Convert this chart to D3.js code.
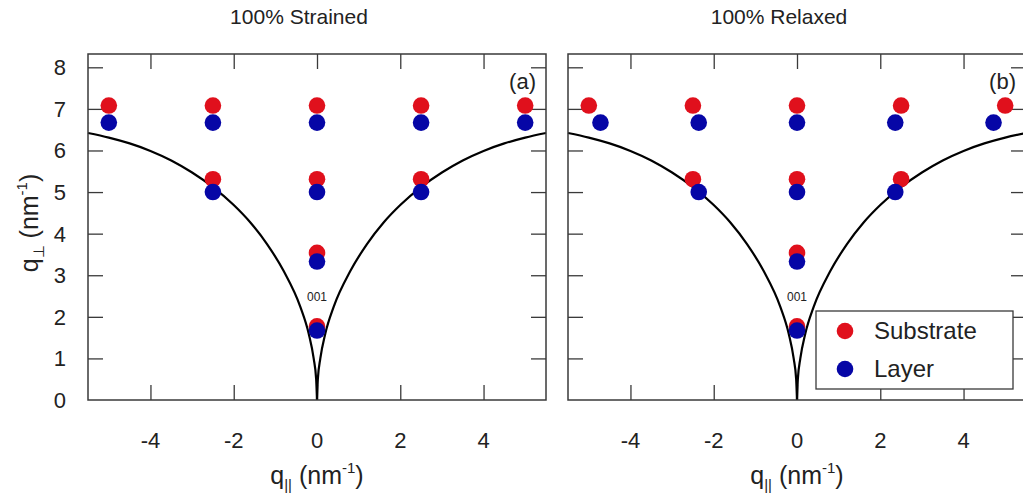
<!DOCTYPE html>
<html>
<head>
<meta charset="utf-8">
<script src="https://cdn.jsdelivr.net/npm/d3@7"></script>
<style>
  body { margin: 0; background: #fff; }
  text { font-family: "Liberation Sans", Arial, sans-serif; fill: #222; }
</style>
</head>
<body>
<div id="chart"></div>
<script>
// Data
const qParTicks = [-4, -2, 0, 2, 4];
const qPerpTicks = [1, 2, 3, 4, 5, 6, 7, 8];
const qPerpLabels = [0, 1, 2, 3, 4, 5, 6, 7, 8];

// substrate (same in both panels)
const subX = [-5.0, -2.5, 0, 2.5, 5.0, -2.5, 0, 2.5, 0, 0];
const subY = [7.08, 7.08, 7.08, 7.08, 7.08, 5.31, 5.31, 5.31, 3.54, 1.77];
// layer, strained
const strainedLayX = [-5.0, -2.5, 0, 2.5, 5.0, -2.5, 0, 2.5, 0, 0];
const strainedLayY = [6.67, 6.67, 6.67, 6.67, 6.67, 5.0, 5.0, 5.0, 3.33, 1.67];
// layer, relaxed
const relaxedLayX = [-4.72, -2.36, 0, 2.36, 4.72, -2.36, 0, 2.36, 0, 0];
const relaxedLayY = [6.67, 6.67, 6.67, 6.67, 6.67, 5.0, 5.0, 5.0, 3.33, 1.67];

// accessible-region boundary (right branch, mirrored for the left)
const arcPar  = [0, 0.02, 0.08, 0.2, 0.4, 0.8, 1.2, 1.6, 2.0, 2.5, 3.0, 3.5, 4.0, 4.5, 5.0, 5.5];
const arcPerp = [0, 0.5, 1.0, 1.6, 2.24, 3.1, 3.75, 4.27, 4.69, 5.12, 5.47, 5.76, 5.99, 6.17, 6.31, 6.42];

const legendNames = ['Substrate', 'Layer'];
const colors = { sub: '#e0101c', lay: '#0606a6' };

const width = 1023;
const height = 499;
const panelW = 458;
const plotTop = 54, plotBottom = 400;
const panels = [
  { left: 88,  title: '100% Strained', tag: '(a)', layX: strainedLayX, layY: strainedLayY, yLabels: true,  legend: false },
  { left: 568, title: '100% Relaxed',  tag: '(b)', layX: relaxedLayX,  layY: relaxedLayY,  yLabels: false, legend: true }
];

const svg = d3.select('#chart').append('svg').attr('width', width).attr('height', height);
svg.append('rect').attr('width', width).attr('height', height).attr('fill', '#fff');

const y = d3.scaleLinear().domain([0, 8.32]).range([plotBottom, plotTop]);
const tickLen = 15;
const frameColor = '#3a3a3a';

panels.forEach(p => {
  const x = d3.scaleLinear().domain([-5.5, 5.5]).range([p.left, p.left + panelW]);
  const g = svg.append('g');

  // ticks, mirrored on every side, pointing inward
  g.append('g').attr('transform', `translate(0,${plotBottom})`)
    .call(d3.axisTop(x).tickValues(qParTicks).tickSize(tickLen).tickFormat(''))
    .call(a => a.select('.domain').remove());
  g.append('g').attr('transform', `translate(0,${plotTop})`)
    .call(d3.axisBottom(x).tickValues(qParTicks).tickSize(tickLen).tickFormat(''))
    .call(a => a.select('.domain').remove());
  g.append('g').attr('transform', `translate(${p.left},0)`)
    .call(d3.axisRight(y).tickValues(qPerpTicks).tickSize(tickLen).tickFormat(''))
    .call(a => a.select('.domain').remove());
  g.append('g').attr('transform', `translate(${p.left + panelW},0)`)
    .call(d3.axisLeft(y).tickValues(qPerpTicks).tickSize(tickLen).tickFormat(''))
    .call(a => a.select('.domain').remove());
  g.selectAll('.tick line').attr('stroke', frameColor).attr('stroke-width', 1.3);

  // tick labels
  g.selectAll('.xlab').data(qParTicks).enter().append('text')
    .attr('x', d => x(d)).attr('y', 448)
    .attr('text-anchor', 'middle').attr('font-size', 22)
    .text(d => d);
  if (p.yLabels) {
    g.selectAll('.ylab').data(qPerpLabels).enter().append('text')
      .attr('x', 66).attr('y', d => y(d) + 8)
      .attr('text-anchor', 'end').attr('font-size', 22)
      .text(d => d);
  }

  // boundary curves
  const line = d3.line().curve(d3.curveMonotoneX);
  const right = arcPar.map((d, i) => [x(d), y(arcPerp[i])]);
  const leftArc = arcPar.map((d, i) => [x(-d), y(arcPerp[i])]).reverse();
  [right, leftArc].forEach(pts => {
    g.append('path').attr('d', line(pts))
      .attr('fill', 'none').attr('stroke', '#000').attr('stroke-width', 2.2);
  });

  // substrate then layer dots
  g.selectAll('.sub').data(subX).enter().append('circle')
    .attr('cx', d => x(d)).attr('cy', (d, i) => y(subY[i])).attr('r', 8.3)
    .attr('fill', colors.sub);
  g.selectAll('.lay').data(p.layX).enter().append('circle')
    .attr('cx', d => x(d)).attr('cy', (d, i) => y(p.layY[i])).attr('r', 8.3)
    .attr('fill', colors.lay);

  g.append('text').attr('x', x(0)).attr('y', 301)
    .attr('text-anchor', 'middle').attr('font-size', 12).attr('fill', '#333')
    .text('001');

  // frame
  g.append('rect').attr('x', p.left).attr('y', plotTop)
    .attr('width', panelW).attr('height', plotBottom - plotTop)
    .attr('fill', 'none').attr('stroke', frameColor).attr('stroke-width', 1.5);

  g.append('text').attr('x', p.left + panelW - 10).attr('y', 89)
    .attr('text-anchor', 'end').attr('font-size', 22).attr('fill', '#333')
    .text(p.tag);

  // title
  g.append('text').attr('x', x(0) - 18).attr('y', 24)
    .attr('text-anchor', 'middle').attr('font-size', 21)
    .text(p.title);

  // x axis label
  const xl = g.append('text').attr('x', x(0)).attr('y', 484)
    .attr('text-anchor', 'middle').attr('font-size', 25);
  xl.append('tspan').text('q');
  xl.append('tspan').attr('font-size', 15).attr('dy', 6).text('||');
  xl.append('tspan').attr('dy', -6).text(' (nm');
  xl.append('tspan').attr('font-size', 15).attr('dy', -11).text('-1');
  xl.append('tspan').attr('dy', 11).text(')');

  if (p.legend) {
    const lg = g.append('g');
    lg.append('rect').attr('x', 816).attr('y', 311).attr('width', 197).attr('height', 78)
      .attr('fill', '#fff').attr('stroke', frameColor).attr('stroke-width', 1.3);
    [colors.sub, colors.lay].forEach((c, i) => {
      lg.append('circle').attr('cx', 845).attr('cy', 331 + i * 38).attr('r', 8.3).attr('fill', c);
      lg.append('text').attr('x', 874).attr('y', 339 + i * 38).attr('font-size', 24)
        .text(legendNames[i]);
    });
  }
});

// y axis label
const yl = svg.append('text')
  .attr('transform', `translate(38,${(plotTop + plotBottom) / 2 - 4}) rotate(-90)`)
  .attr('text-anchor', 'middle').attr('font-size', 25);
yl.append('tspan').text('q');
yl.append('tspan').attr('font-size', 15).attr('dy', 6).text('⊥');
yl.append('tspan').attr('dy', -6).text(' (nm');
yl.append('tspan').attr('font-size', 15).attr('dy', -11).text('-1');
yl.append('tspan').attr('dy', 11).text(')');
</script>
</body>
</html>
